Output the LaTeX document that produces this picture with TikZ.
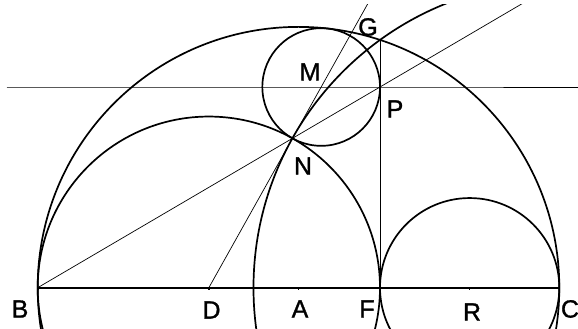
\documentclass[tikz,border=0pt]{standalone}
\usepackage{fontspec}
\setmainfont{Liberation Sans}
\newfontfamily\lblfont[FakeBold=1.2]{Liberation Sans}
\usetikzlibrary{calc}

\begin{document}
\begin{tikzpicture}[x=1pt,y=1pt,line join=round,
  arc/.style={line width=1.7pt},
  mid/.style={line width=0.9pt},
  aux/.style={line width=0.7pt},
  lbl/.style={font=\lblfont\fontsize{25}{25}\selectfont,inner sep=0pt}]
  \useasboundingbox (0,0) rectangle (578,329);
  % points on the base line
  \coordinate (B) at (37.7,41.3);
  \coordinate (D) at (208.85,41.3);
  \coordinate (A) at (298.5,41.3);
  \coordinate (F) at (380,41.3);
  \coordinate (R) at (469.65,41.3);
  \coordinate (C) at (559.3,41.3);
  % twin circle: centre M, contact N, P on the perpendicular at F
  \coordinate (M) at (321.17,241.99);
  \coordinate (N) at (292.44,190.65);
  \coordinate (P) at (380,241.99);
  \coordinate (G) at (380,289.04);
  \coordinate (hL) at (6.5,241.99);
  \begin{scope}
    \clip (6,0) rectangle (578,324.6);
    % the three half circles (shown whole, cut by the frame)
    \draw[arc] (A) circle (260.8);
    \draw[arc] (D) circle (171.15);
    \draw[arc] (R) circle (89.65);
    % twin circle
    \draw[arc] (M) circle (58.83);
    % circle about C through N and G
    \draw[arc] (C) circle (305.81);
    \draw[arc] (B) -- (C);
    \draw[mid] (F) -- (G);
    \draw[mid] (hL) -- (P) -- ++(250,0);
    % thin lines through N
    \draw[aux] (B) -- ($(B)!2!(P)$);
    \draw[aux] (D) -- ($(D)!2!(M)$);
  \end{scope}
  % ticks on the base line
  \foreach \p in {B,D,A,F,R,C}
    \draw[line width=1.6pt] (\p) -- ++(0,-2.5);
  % labels
  \node[lbl] (labB) at (20,20) {B};
  \node[lbl] (labD) at (211.5,19) {D};
  \node[lbl] (labA) at (300,20) {A};
  \node[lbl] (labF) at (367,20) {F};
  \node[lbl] (labR) at (472,17) {R};
  \node[lbl] (labC) at (570,20) {C};
  \node[lbl] (labG) at (368,302) {G};
  \node[lbl] (labM) at (310,257) {M};
  \node[lbl] (labP) at (395,220) {P};
  \node[lbl] (labN) at (303,163) {N};
\end{tikzpicture}
\end{document}
